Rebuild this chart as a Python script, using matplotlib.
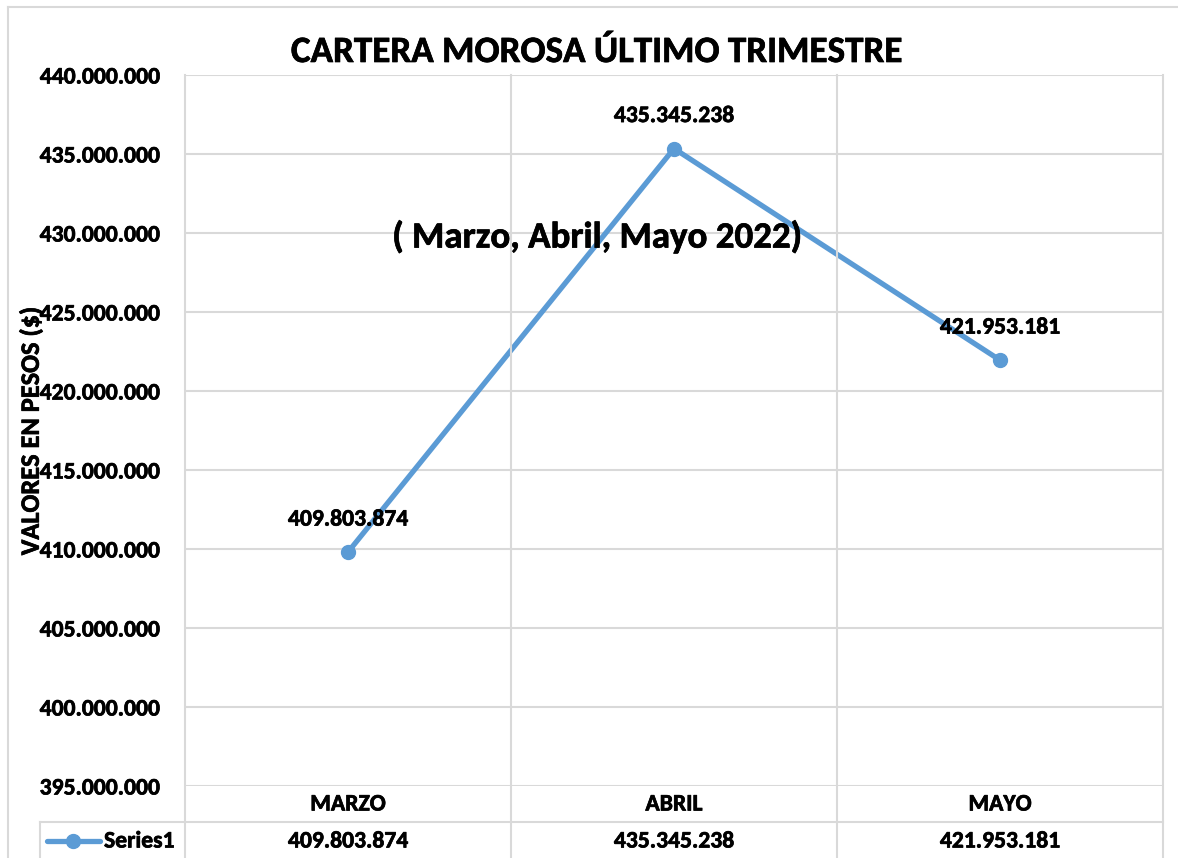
import matplotlib
matplotlib.use("Agg")
import matplotlib.pyplot as plt
from matplotlib.lines import Line2D
import matplotlib.transforms as mtransforms
import matplotlib.patheffects as pe

categories = ["MARZO", "ABRIL", "MAYO"]
values = [409803874, 435345238, 421953181]
series_name = "Series1"
title = "CARTERA MOROSA ÚLTIMO TRIMESTRE"
subtitle = "( Marzo, Abril, Mayo 2022)"
ylabel = "VALORES EN PESOS ($)"
yticks = list(range(395000000, 440000001, 5000000))

def fmt(v):
    return f"{v:,}".replace(",", ".")

plt.rcParams['font.family'] = ['Carlito', 'DejaVu Sans']
plt.rcParams['font.weight'] = 'bold'

W, H = 1178, 858
fig = plt.figure(figsize=(W / 100, H / 100), dpi=100)
L, R, T, B = 185, 1163, 75, 786
ax = fig.add_axes([L / W, 1 - B / H, (R - L) / W, (B - T) / H])

grid_c = "#D9D9D9"
line_c = "#5B9BD5"
FS = 17
thick = [pe.withStroke(linewidth=0.5, foreground='black')]

x = list(range(len(categories)))
ax.plot(x, values, color=line_c, lw=3.8, marker='o', ms=10, zorder=3,
        solid_capstyle='round')
ax.set_xlim(-0.5, len(categories) - 0.5)
ax.set_ylim(yticks[0], yticks[-1])
ax.set_yticks(yticks)
ax.set_yticklabels([fmt(v) for v in yticks], fontsize=FS, fontweight='bold')
for t in ax.get_yticklabels():
    t.set_path_effects(thick)
ax.tick_params(axis='y', length=0, pad=18)
ax.set_xticks([])
for s in ax.spines.values():
    s.set_visible(False)
for yv in yticks:
    ax.axhline(yv, color=grid_c, lw=1.5, zorder=1)

for xi, v in zip(x, values):
    ax.annotate(fmt(v), (xi, v), xytext=(0, 33), textcoords='offset pixels',
                ha='center', va='center', fontsize=FS, fontweight='bold',
                path_effects=thick)

def fx(px):
    return px / W
def fy(py):
    return 1 - py / H

bounds = [-0.5 + i for i in range(len(categories) + 1)]
trans_xdata_fig = mtransforms.blended_transform_factory(ax.transData, fig.transFigure)
for b in bounds:
    fig.add_artist(Line2D([b, b], [fy(T), 0], transform=trans_xdata_fig,
                          color=grid_c, lw=1.5, zorder=1))

# data table lines
fig.add_artist(Line2D([fx(40), fx(R)], [fy(822), fy(822)], color=grid_c, lw=1.5))
fig.add_artist(Line2D([fx(40), fx(40)], [fy(822), 0], color=grid_c, lw=1.5))

# data table text
for xi, c, v in zip(x, categories, values):
    fig.text(xi, fy(804), c, transform=trans_xdata_fig, fontsize=FS,
             fontweight='bold', ha='center', va='center', path_effects=thick)
    fig.text(xi, fy(841), fmt(v), transform=trans_xdata_fig, fontsize=FS,
             fontweight='bold', ha='center', va='center', path_effects=thick)

# legend key in table
fig.add_artist(Line2D([fx(47), fx(100)], [fy(841), fy(841)], color=line_c, lw=3.8,
                      solid_capstyle='round'))
fig.add_artist(Line2D([fx(73)], [fy(841)], color=line_c, marker='o', ms=10, lw=0))
fig.text(fx(104), fy(841), series_name, fontsize=FS, fontweight='bold',
         ha='left', va='center', path_effects=thick)

# outer border (top & left)
fig.add_artist(Line2D([fx(8), 1], [fy(7), fy(7)], color=grid_c, lw=1.5))
fig.add_artist(Line2D([fx(8), fx(8)], [fy(7), 0], color=grid_c, lw=1.5))

# titles
fig.text(fx(597), fy(52), title, fontsize=26.7, fontweight='bold', ha='center',
         va='center', path_effects=thick)
fig.text(fx(597), fy(237), subtitle, fontsize=26.6, fontweight='bold', ha='center',
         va='center', zorder=5, path_effects=thick)
fig.text(fx(31), fy(431), ylabel, fontsize=19, fontweight='bold', rotation=90,
         ha='center', va='center', path_effects=thick)

fig.savefig("out.png", dpi=100)
